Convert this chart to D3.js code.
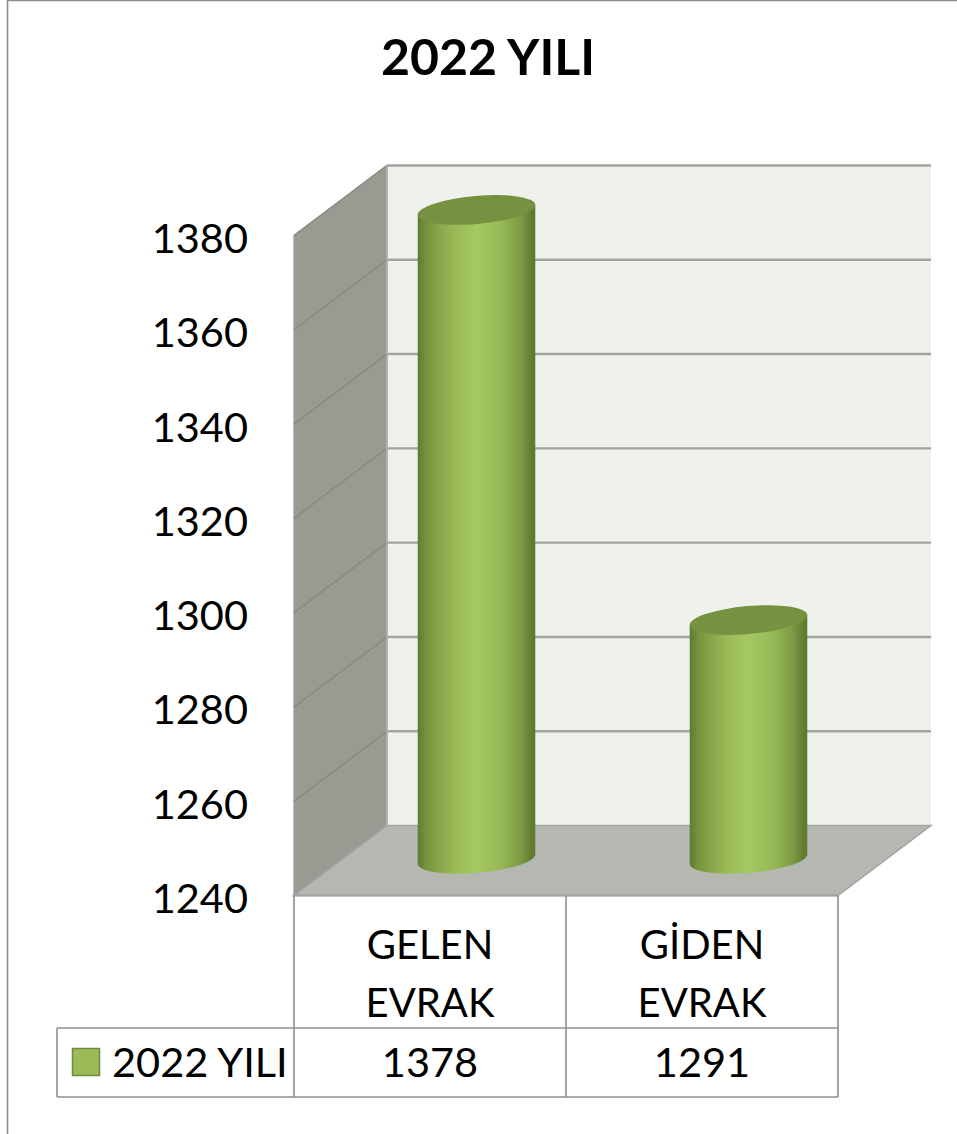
<!DOCTYPE html>
<html><head><meta charset="utf-8">
<script src="https://cdn.jsdelivr.net/npm/d3@7"></script>
<style>html,body{margin:0;padding:0;background:#fff}svg{display:block}text{font-family:Lato,"Open Sans",sans-serif;fill:#000}</style>
</head><body><div id="c"></div>
<script>
const categories = [["GELEN","EVRAK"],["GİDEN","EVRAK"]];
const seriesName = "2022 YILI";
const values = [1378, 1291];
const ticks = [1240,1260,1280,1300,1320,1340,1360,1380];

const W=957,H=1134;
const depthX=93, depthY=70;
const xL=294, xR=838;
const svg=d3.select("#c").append("svg").attr("width",W).attr("height",H);
const y=d3.scaleLinear().domain([1240,1380]).range([895.5,235.5]);
const x=d3.scaleBand().domain(d3.range(categories.length)).range([xL,xR]);
const defs=svg.append("defs");
const g=defs.append("linearGradient").attr("id","cyl").attr("x1",0).attr("x2",1).attr("y1",0).attr("y2",0);
[[0,"#5f7c2f"],[.08,"#76963f"],[.3,"#98b956"],[.5,"#a4c863"],[.7,"#98ba56"],[.88,"#7b9a44"],[.97,"#5f7b30"],[1,"#5d7a2e"]]
 .forEach(([o,c])=>g.append("stop").attr("offset",o).attr("stop-color",c));
defs.append("filter").attr("id","soft").append("feGaussianBlur").attr("stdDeviation",0.6);

// frame
svg.append("path").attr("d",`M7.5,${H}V0.5H${W}`).attr("fill","none").attr("stroke","#8c8c8c").attr("stroke-width",1.6);

// title
svg.append("text").attr("x",488).attr("y",75).attr("text-anchor","middle").attr("font-size",50).attr("font-weight",700).text(seriesName);

const backY=v=>y(v)-depthY, sideX=xL+depthX;
const wallRight=931;
svg.append("rect").attr("x",sideX).attr("y",backY(1380)).attr("width",wallRight-sideX).attr("height",backY(1240)-backY(1380)).attr("fill","#eff2ec");
svg.append("path").attr("d",`M${xL},${y(1380)}L${sideX},${backY(1380)}V${backY(1240)}L${xL},${y(1240)}Z`).attr("fill","#999b92").attr("stroke","#a4a4a4").attr("stroke-width",1.5);
svg.append("path").attr("d",`M${xL},${y(1240)}L${sideX},${backY(1240)}H${wallRight}L${xR},${y(1240)}Z`).attr("fill","#b5b7b0").attr("stroke","#a2a2a2").attr("stroke-width",1.5);
ticks.filter(t=>t!==1240).forEach(t=>{
  svg.append("path").attr("d",`M${xL},${y(t)}L${sideX},${backY(t)}`).attr("fill","none").attr("stroke","#87887f").attr("stroke-width",1.4);
  svg.append("path").attr("d",`M${sideX},${backY(t)}H${wallRight}`).attr("fill","none").attr("stroke","#a3a39e").attr("stroke-width",2.4);
});
svg.append("path").attr("d",`M${sideX},${backY(1380)}V${backY(1240)}`).attr("stroke","#b3b3ae").attr("stroke-width",1.5);
svg.append("path").attr("d",`M${xL},${y(1240)}H${xR}`).attr("stroke","#a2a2a2").attr("stroke-width",2);

// axis
const axis=d3.axisLeft(y).tickValues(ticks).tickSize(0).tickPadding(0).tickFormat(d3.format("d"));
const ag=svg.append("g").attr("transform",`translate(${xL-46},2)`).call(axis);
ag.select(".domain").remove();
ag.selectAll("text").attr("font-size",41.5).attr("dy","0.36em").style("font-family","Lato");

// cylinders
const a=59, b=14, tilt=-5, th=tilt*Math.PI/180;
const X=Math.sqrt(a*a*Math.cos(th)**2+b*b*Math.sin(th)**2);
const Yo=(a*a-b*b)*Math.sin(-th)*Math.cos(th)/X; // y drop of the left tangent point
const bw=x.bandwidth();
values.forEach((v,i)=>{
  const cx=x(i)+bw/2+depthX/2, top=y(v)-depthY/2, bot=y(1240)-depthY/2-1.5;
  const G=svg.append("g").attr("filter","url(#soft)");
  G.append("path").attr("d",
    `M${cx-X},${top+Yo}L${cx-X},${bot+Yo}A${a},${b} ${tilt} 0 0 ${cx+X},${bot-Yo}L${cx+X},${top-Yo}Z`)
    .attr("fill","url(#cyl)");
  G.append("ellipse").attr("rx",a).attr("ry",b).attr("transform",`translate(${cx},${top}) rotate(${tilt})`).attr("fill","#76913f");
});

// data table
const tTop=1028,tBot=1097,legL=57,line="#8f8f8f";
const L=(d,w)=>svg.append("path").attr("d",d).attr("fill","none").attr("stroke",line).attr("stroke-width",w||1.6);
L(`M${xL},${y(1240)}V${tBot}`);
categories.forEach((c,i)=>L(`M${x(i)+bw},${y(1240)}V${tBot}`));
L(`M${legL},${tTop}H${xR}`); L(`M${legL},${tBot}H${xR}`); L(`M${legL},${tTop}V${tBot}`);
categories.forEach((c,i)=>{
  const cx=x(i)+bw/2;
  c.forEach((s,k)=>svg.append("text").attr("x",cx).attr("y",959+k*58).attr("text-anchor","middle").attr("font-size",40).text(s));
  svg.append("text").attr("x",cx).attr("y",1077).attr("text-anchor","middle").attr("font-size",41.5).text(values[i]);
});
svg.append("rect").attr("x",72.5).attr("y",1048.5).attr("width",27).attr("height",27).attr("fill","#9bbb59").attr("stroke","#71893f").attr("stroke-width",1.5);
svg.append("text").attr("x",112).attr("y",1077).attr("font-size",41.5).text(seriesName);
</script></body></html>
